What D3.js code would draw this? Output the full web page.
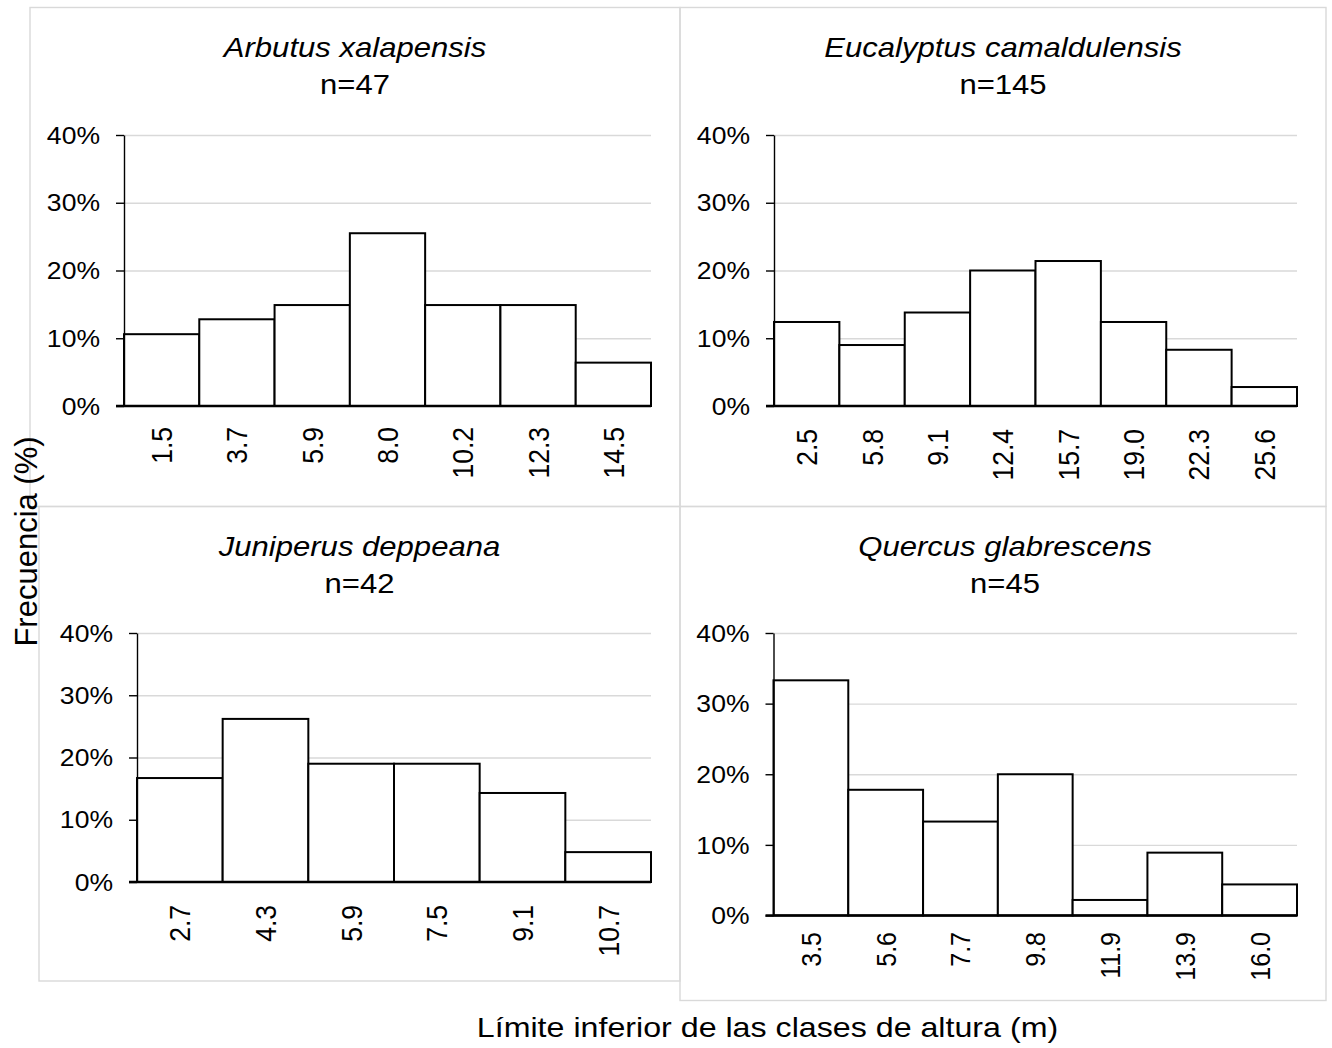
<!DOCTYPE html>
<html lang="es">
<head>
    <meta charset="UTF-8">
    <title>Frecuencia por clases de altura</title>
    <script src="https://d3js.org/d3.v7.min.js"></script>
    <style>
        body { margin: 0; background: #fff; }
        svg { display: block; }
        text { font-family: "Liberation Sans", Arial, sans-serif; fill: #000; }
        .grid line { stroke: #d9d9d9; stroke-width: 1.3; }
        .grid path { display: none; }
        .box { fill: none; stroke: #d9d9d9; stroke-width: 1.4; }
        .bar { fill: #fff; stroke: #000; stroke-width: 2; }
    </style>
</head>
<body>
<svg id="chart" width="1332" height="1048"></svg>
<script>
    // data (percent of trees per height class)
    const species = ["Arbutus xalapensis", "Eucalyptus camaldulensis", "Juniperus deppeana", "Quercus glabrescens"];
    const sampleSizes = [47, 145, 42, 45];

    const arbutusClasses = ["1.5", "3.7", "5.9", "8.0", "10.2", "12.3", "14.5"];
    const arbutusFreq = [10.6, 12.8, 14.9, 25.5, 14.9, 14.9, 6.4];

    const eucalyptusClasses = ["2.5", "5.8", "9.1", "12.4", "15.7", "19.0", "22.3", "25.6"];
    const eucalyptusFreq = [12.4, 9.0, 13.8, 20.0, 21.4, 12.4, 8.3, 2.8];

    const juniperusClasses = ["2.7", "4.3", "5.9", "7.5", "9.1", "10.7"];
    const juniperusFreq = [16.7, 26.2, 19.0, 19.0, 14.3, 4.8];

    const quercusClasses = ["3.5", "5.6", "7.7", "9.8", "11.9", "13.9", "16.0"];
    const quercusFreq = [33.3, 17.8, 13.3, 20.0, 2.2, 8.9, 4.4];

    const yTicks = [0, 10, 20, 30, 40];

    const classes = [arbutusClasses, eucalyptusClasses, juniperusClasses, quercusClasses];
    const freqs = [arbutusFreq, eucalyptusFreq, juniperusFreq, quercusFreq];

    // the original picture is a bit wider than tall, text included
    const SX = 1.13;

    // panel boxes and plot areas [x0, y0, x1, y1]
    const layout = [
        {box: [30, 7.5, 680, 506.5], plot: [124, 135, 651, 406], tx: 355, t1: 57, t2: 94, labelTop: 427, tickFont: 26.5},
        {box: [680, 7.5, 1326, 506.5], plot: [774, 135, 1297, 406], tx: 1003, t1: 57, t2: 94, labelTop: 429, tickFont: 26.5},
        {box: [39, 506.5, 680, 981], plot: [137, 633, 651, 882], tx: 359.5, t1: 556, t2: 592.5, labelTop: 905, tickFont: 26.5},
        {box: [680, 506.5, 1326, 1000.5], plot: [773.5, 633, 1297, 915.5], tx: 1005, t1: 556, t2: 592.5, labelTop: 932, tickFont: 25}
    ];

    const svg = d3.select("#chart");

    species.forEach((name, i) => {
        const L = layout[i];
        const [x0, y0, x1, y1] = L.plot;

        svg.append("rect")
            .attr("class", "box")
            .attr("x", L.box[0]).attr("y", L.box[1])
            .attr("width", L.box[2] - L.box[0])
            .attr("height", L.box[3] - L.box[1]);

        const x = d3.scaleBand().domain(classes[i]).range([x0, x1]).padding(0);
        const y = d3.scaleLinear().domain([0, 40]).range([y1, y0]);

        // gridlines
        svg.append("g")
            .attr("class", "grid")
            .attr("transform", `translate(${x0},0)`)
            .call(d3.axisLeft(y).tickValues(yTicks.slice(1)).tickSize(-(x1 - x0)).tickFormat(""));

        // bars
        svg.append("g")
            .selectAll("rect")
            .data(freqs[i])
            .join("rect")
            .attr("class", "bar")
            .attr("x", (d, j) => x(classes[i][j]))
            .attr("y", d => y(d))
            .attr("width", x.bandwidth())
            .attr("height", d => y(0) - y(d));

        // y axis
        const yAxis = svg.append("g")
            .attr("transform", `translate(${x0},0)`)
            .call(d3.axisLeft(y).tickValues(yTicks).tickSizeInner(8).tickSizeOuter(0).tickFormat(d => d + "%"));
        yAxis.select(".domain").attr("stroke", "#000").attr("stroke-width", 1.4);
        yAxis.selectAll(".tick line").attr("stroke", "#000").attr("stroke-width", 1.4);
        yAxis.selectAll(".tick text")
            .attr("x", 0).attr("dy", "0.35em")
            .attr("transform", `translate(-24,0) scale(${SX},1)`)
            .style("font-size", "23.5px")
            .attr("fill", "#000");

        // baseline
        svg.append("line")
            .attr("x1", x0 - 8).attr("x2", x1)
            .attr("y1", y(0)).attr("y2", y(0))
            .attr("stroke", "#000").attr("stroke-width", 2.6);

        // x axis labels, rotated
        const xAxis = svg.append("g")
            .attr("transform", `translate(0,${y1})`)
            .call(d3.axisBottom(x).tickSize(0));
        xAxis.select(".domain").remove();
        xAxis.selectAll(".tick text")
            .attr("x", 0).attr("y", 0).attr("dy", "0.35em")
            .attr("text-anchor", "end")
            .attr("transform", `translate(0,${L.labelTop - y1}) scale(${SX},1) rotate(-90)`)
            .style("font-size", L.tickFont + "px")
            .attr("fill", "#000");

        // titles
        svg.append("text")
            .attr("text-anchor", "middle")
            .attr("transform", `translate(${L.tx},${L.t1}) scale(${SX},1)`)
            .style("font-size", "27.5px")
            .style("font-style", "italic")
            .text(name);
        svg.append("text")
            .attr("text-anchor", "middle")
            .attr("transform", `translate(${L.tx},${L.t2}) scale(${SX},1)`)
            .style("font-size", "27.5px")
            .text("n=" + sampleSizes[i]);
    });

    svg.append("text")
        .attr("text-anchor", "middle")
        .attr("transform", "translate(37,541.5) rotate(-90)")
        .style("font-size", "31px")
        .text("Frecuencia (%)");

    svg.append("text")
        .attr("text-anchor", "middle")
        .attr("transform", `translate(767.5,1037) scale(${SX},1)`)
        .style("font-size", "28.5px")
        .text("Límite inferior de las clases de altura (m)");
</script>
</body>
</html>
